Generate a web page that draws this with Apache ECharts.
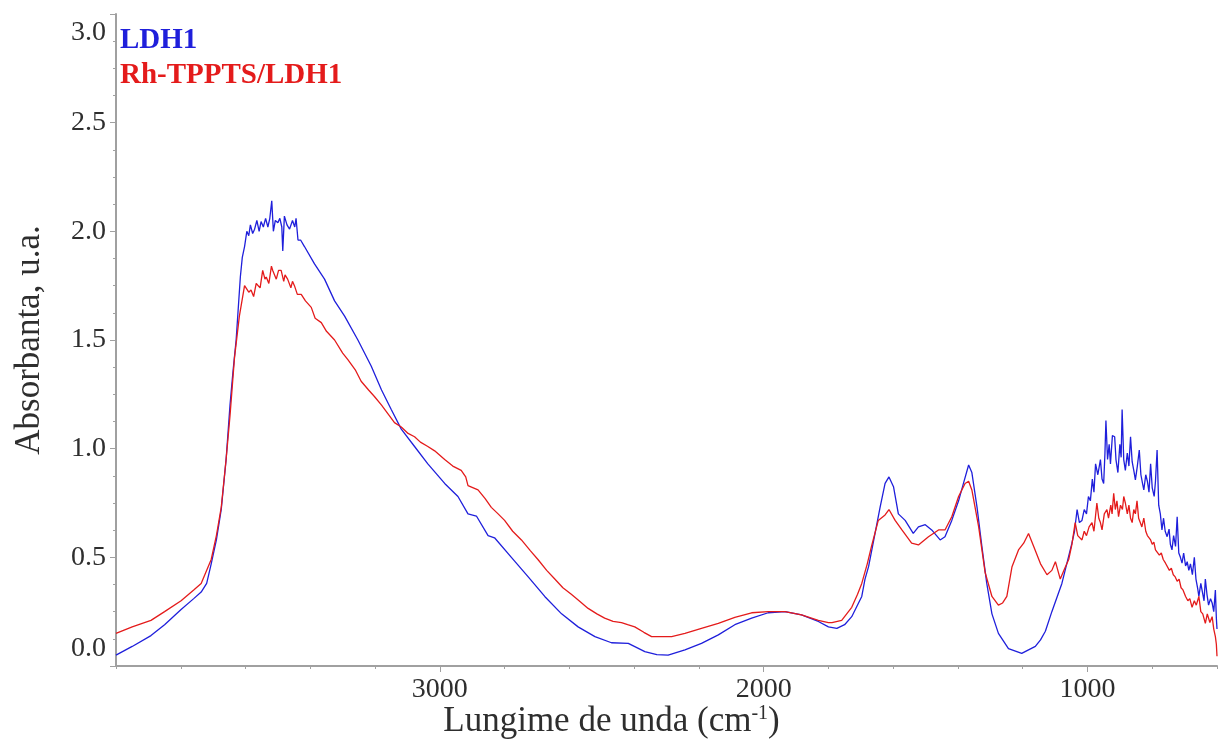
<!DOCTYPE html>
<html>
<head>
<meta charset="utf-8">
<script src="https://cdn.jsdelivr.net/npm/echarts@6/dist/echarts.min.js"></script>
<style>
html,body{margin:0;padding:0;background:#fff;}
#chart{width:1220px;height:745px;}
</style>
</head>
<body>
<div id="chart"></div>
<script>
// ---- data ----
const seriesNames = ['LDH1', 'Rh-TPPTS/LDH1'];
const xTickLabels = [1000, 2000, 3000];
const yTickLabels = [0, 0.5, 1.0, 1.5, 2.0, 2.5, 3.0];

const blueWavenumber = [4000,3950,3892,3850,3799,3760,3737,3720,3706,3690,3675,3660,3648,3639,3629,3616,3610,3603,3596,3590,3585,3578,3572,3565,3558,3552,3545,3538,3531,3525,3519,3514,3508,3500,3494,3488,3485,3480,3472,3464,3455,3448,3444,3438,3430,3418,3387,3356,3325,3294,3253,3212,3180,3150,3119,3078,3037,2985,2944,2913,2887,2851,2831,2779,2727,2676,2624,2573,2521,2470,2418,2367,2330,2295,2243,2192,2140,2089,2037,1986,1934,1883,1831,1800,1774,1750,1728,1707,1697,1687,1676,1656,1640,1625,1613,1599,1584,1563,1538,1522,1501,1481,1455,1440,1419,1398,1383,1367,1357,1341,1326,1311,1295,1275,1244,1203,1161,1145,1130,1110,1079,1048,1040,1032,1025,1017,1010,1003,997,991,985,980,975,968,960,955,950,946,943,938,933,929,923,916,912,906,900,896,893,888,883,877,872,867,862,857,852,846,840,835,830,826,820,815,810,805,800,794,790,785,780,775,770,765,760,754,748,744,739,734,728,723,718,713,708,703,697,692,687,682,676,670,665,660,656,650,645,640,636,631,626,620,615,610,605,602,600];
const blueAbs = [0.05,0.09,0.14,0.19,0.26,0.31,0.34,0.38,0.47,0.58,0.72,0.95,1.20,1.35,1.50,1.79,1.88,1.93,2.00,1.98,2.03,1.99,2.01,2.05,2.00,2.045,2.02,2.06,2.02,2.06,2.14,2.00,2.05,2.04,2.06,2.02,1.91,2.07,2.03,2.01,2.05,2.02,2.06,1.96,1.96,1.93,1.85,1.78,1.68,1.61,1.50,1.38,1.27,1.18,1.09,1.01,0.93,0.84,0.78,0.70,0.69,0.60,0.59,0.50,0.41,0.32,0.24,0.18,0.135,0.107,0.104,0.066,0.052,0.05,0.074,0.104,0.143,0.19,0.22,0.245,0.25,0.235,0.205,0.18,0.173,0.19,0.227,0.29,0.32,0.40,0.457,0.61,0.733,0.84,0.87,0.825,0.70,0.67,0.61,0.64,0.65,0.626,0.58,0.595,0.67,0.76,0.84,0.925,0.89,0.73,0.55,0.38,0.24,0.15,0.08,0.058,0.09,0.12,0.16,0.25,0.38,0.565,0.62,0.72,0.66,0.67,0.72,0.70,0.78,0.76,0.86,0.80,0.93,0.88,0.95,0.86,0.84,0.98,1.13,0.95,1.02,0.93,1.06,1.055,0.95,0.89,1.02,0.96,1.18,0.95,0.90,0.98,0.92,1.055,0.94,0.90,0.856,0.92,0.994,0.88,0.84,0.81,0.88,0.85,0.80,0.93,0.82,0.78,0.85,0.994,0.74,0.70,0.626,0.68,0.62,0.595,0.63,0.56,0.534,0.60,0.55,0.687,0.52,0.50,0.473,0.52,0.46,0.48,0.44,0.47,0.42,0.50,0.40,0.36,0.32,0.38,0.34,0.30,0.40,0.33,0.28,0.31,0.29,0.25,0.35,0.22,0.17];

const redWavenumber = [4000,3950,3892,3850,3799,3760,3737,3706,3690,3675,3660,3648,3634,3619,3603,3590,3583,3575,3567,3555,3547,3540,3536,3528,3520,3516,3505,3498,3490,3482,3478,3470,3460,3455,3449,3440,3428,3415,3397,3385,3366,3350,3325,3300,3284,3260,3243,3220,3202,3180,3160,3140,3119,3098,3078,3060,3037,3016,2985,2960,2934,2920,2913,2882,2860,2841,2820,2800,2775,2748,2720,2697,2670,2645,2620,2594,2570,2542,2515,2491,2465,2439,2420,2398,2370,2346,2315,2284,2243,2192,2140,2089,2037,1986,1934,1883,1831,1800,1789,1759,1728,1710,1697,1680,1667,1646,1625,1613,1594,1573,1543,1522,1491,1460,1440,1419,1398,1378,1367,1357,1336,1316,1295,1275,1262,1249,1233,1213,1197,1182,1166,1145,1125,1110,1099,1084,1070,1058,1048,1038,1030,1017,1010,1003,995,986,980,971,965,960,955,948,940,935,928,924,919,914,909,904,898,892,888,883,877,872,867,862,857,852,847,842,837,832,826,820,815,811,805,800,795,790,784,778,772,766,759,753,747,741,735,729,723,717,711,705,697,690,684,677,670,664,656,650,644,636,630,622,615,610,605,602,600];
const redAbs = [0.15,0.18,0.21,0.25,0.30,0.35,0.38,0.49,0.60,0.73,0.95,1.15,1.42,1.61,1.75,1.72,1.73,1.70,1.76,1.74,1.82,1.78,1.79,1.76,1.84,1.82,1.78,1.82,1.82,1.77,1.80,1.78,1.74,1.77,1.75,1.71,1.71,1.68,1.65,1.60,1.58,1.54,1.50,1.44,1.41,1.36,1.31,1.27,1.24,1.20,1.16,1.12,1.10,1.07,1.055,1.03,1.01,0.99,0.95,0.92,0.90,0.87,0.83,0.81,0.77,0.73,0.70,0.67,0.62,0.58,0.53,0.49,0.44,0.40,0.36,0.33,0.30,0.265,0.24,0.22,0.205,0.20,0.19,0.18,0.155,0.135,0.135,0.135,0.15,0.173,0.196,0.224,0.245,0.25,0.25,0.235,0.21,0.20,0.20,0.21,0.27,0.33,0.38,0.47,0.55,0.67,0.695,0.72,0.67,0.626,0.565,0.557,0.595,0.626,0.626,0.687,0.78,0.84,0.85,0.81,0.64,0.43,0.32,0.28,0.29,0.32,0.457,0.534,0.565,0.61,0.55,0.47,0.42,0.44,0.48,0.40,0.45,0.49,0.56,0.66,0.60,0.58,0.62,0.60,0.64,0.66,0.62,0.75,0.68,0.66,0.626,0.70,0.72,0.68,0.74,0.70,0.795,0.72,0.76,0.687,0.74,0.72,0.78,0.75,0.70,0.74,0.68,0.66,0.72,0.70,0.76,0.68,0.66,0.64,0.68,0.62,0.60,0.595,0.58,0.56,0.57,0.534,0.54,0.51,0.52,0.49,0.473,0.47,0.44,0.45,0.42,0.41,0.39,0.40,0.36,0.35,0.32,0.30,0.31,0.27,0.30,0.28,0.32,0.25,0.24,0.196,0.24,0.20,0.227,0.17,0.135,0.10,0.045];

// ---- build ----
function zip(xs, ys){ return xs.map((x,i)=>[x, ys[i]]); }
const SERIF = '"Liberation Serif","DejaVu Serif",serif';
const AXIS_GRAY = '#a0a0a0';
const TEXT = '#2e2e2e';
const BLUE = '#1f1fdb';
const RED = '#e41b1b';

const chart = echarts.init(document.getElementById('chart'), null, {renderer:'canvas'});
chart.setOption({
  animation:false,
  backgroundColor:'#ffffff',
  grid:{left:116, right:3, top:14, bottom:79, containLabel:false},
  legend:{
    orient:'vertical', left:110, top:21,
    icon:'none', itemWidth:0, itemHeight:14, itemGap:6,
    selectedMode:false,
    textStyle:{fontFamily:SERIF, fontSize:29, fontWeight:'bold', lineHeight:28},
    data:[
      {name:seriesNames[0], textStyle:{color:BLUE}},
      {name:seriesNames[1], textStyle:{color:RED}}
    ]
  },
  xAxis:[
    {
      type:'value', gridIndex:0, inverse:true, min:600, max:4000, interval:200,
      position:'bottom',
      axisLine:{show:true, onZero:false, lineStyle:{color:AXIS_GRAY, width:2}},
      axisTick:{show:true, length:3, lineStyle:{color:AXIS_GRAY}},
      axisLabel:{show:false},
      splitLine:{show:false},
      name:'Lungime de unda (cm{sup|-1})',
      nameLocation:'middle', nameGap:38,
      nameTextStyle:{fontFamily:SERIF, fontSize:35, color:TEXT, padding:[0,110,0,0],
        rich:{sup:{fontFamily:SERIF, fontSize:20, color:TEXT, padding:[0,0,16,0]}}}
    },
    {
      type:'value', gridIndex:0, inverse:true, min:600, max:4000, interval:200,
      position:'bottom',
      axisLine:{show:false, onZero:false},
      axisTick:{show:true, length:6, customValues:xTickLabels, lineStyle:{color:AXIS_GRAY}},
      axisLabel:{show:true, customValues:xTickLabels, margin:10, fontFamily:SERIF, fontSize:28, color:TEXT,
        formatter:function(v){ return String(v); }},
      splitLine:{show:false}
    }
  ],
  yAxis:{
    type:'value', min:0, max:3, interval:0.5,
    axisLine:{show:true, onZero:false, lineStyle:{color:AXIS_GRAY, width:2}},
    axisTick:{show:true, length:6, lineStyle:{color:AXIS_GRAY}},
    minorTick:{show:true, splitNumber:4, length:3, lineStyle:{color:AXIS_GRAY}},
    splitLine:{show:false},
    axisLabel:{
      margin:10, fontFamily:SERIF, fontSize:28, color:TEXT,
      formatter:function(v){
        if (yTickLabels.indexOf(v) < 0) return '';
        const s = v.toFixed(1);
        if (v === 0) return '{lo|' + s + '}';
        if (v === 3) return '{hi|' + s + '}';
        return s;
      },
      rich:{
        lo:{fontFamily:SERIF, fontSize:28, color:TEXT, padding:[0,0,34,0]},
        hi:{fontFamily:SERIF, fontSize:28, color:TEXT, padding:[38,0,0,0]}
      }
    },
    name:'Absorbanta, u.a.', nameLocation:'middle', nameGap:69, nameRotate:90,
    nameTextStyle:{fontFamily:SERIF, fontSize:35, color:TEXT}
  },
  series:[
    {name:seriesNames[0], type:'line', xAxisIndex:0, data:zip(blueWavenumber, blueAbs),
     showSymbol:false, symbol:'none', lineStyle:{color:BLUE, width:1.3}, itemStyle:{color:BLUE}, z:3},
    {name:seriesNames[1], type:'line', xAxisIndex:0, data:zip(redWavenumber, redAbs),
     showSymbol:false, symbol:'none', lineStyle:{color:RED, width:1.3}, itemStyle:{color:RED}, z:4}
  ]
});
</script>
</body>
</html>
